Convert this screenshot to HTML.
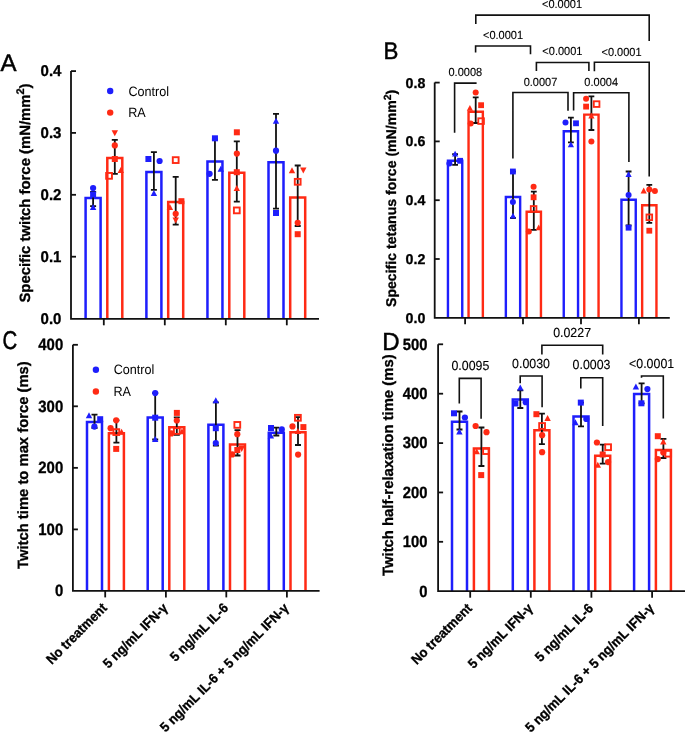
<!DOCTYPE html>
<html><head><meta charset="utf-8"><style>
html,body{margin:0;padding:0;background:#fff;overflow:hidden;}
svg{display:block;will-change:transform;}
text{font-family:"Liberation Sans", sans-serif;text-rendering:geometricPrecision;}
</style></head><body>
<svg width="685" height="733" viewBox="0 0 685 733" font-family='"Liberation Sans", sans-serif'>
<rect width="685" height="733" fill="#fff"/>
<path d="M85.60 318.8V197.9H100.60V318.8" fill="none" stroke="#1e1efc" stroke-width="2.5"/>
<path d="M107.30 318.8V158H122.30V318.8" fill="none" stroke="#ff2a14" stroke-width="2.5"/>
<path d="M146.40 318.8V172H161.40V318.8" fill="none" stroke="#1e1efc" stroke-width="2.5"/>
<path d="M168.20 318.8V201.9H183.20V318.8" fill="none" stroke="#ff2a14" stroke-width="2.5"/>
<path d="M207.45 318.8V161.5H222.45V318.8" fill="none" stroke="#1e1efc" stroke-width="2.5"/>
<path d="M229.30 318.8V172.7H244.30V318.8" fill="none" stroke="#ff2a14" stroke-width="2.5"/>
<path d="M268.50 318.8V162.3H283.50V318.8" fill="none" stroke="#1e1efc" stroke-width="2.5"/>
<path d="M290.20 318.8V197.6H305.20V318.8" fill="none" stroke="#ff2a14" stroke-width="2.5"/>
<path d="M93.1 192V206.2M90.10 192H96.10M90.10 206.2H96.10" fill="none" stroke="#111" stroke-width="1.8"/>
<path d="M114.8 139.9V173.8M111.80 139.9H117.80M111.80 173.8H117.80" fill="none" stroke="#111" stroke-width="1.8"/>
<path d="M153.9 152.1V189.8M150.90 152.1H156.90M150.90 189.8H156.90" fill="none" stroke="#111" stroke-width="1.8"/>
<path d="M175.7 176.9V224.7M172.70 176.9H178.70M172.70 224.7H178.70" fill="none" stroke="#111" stroke-width="1.8"/>
<path d="M214.95 139.5V179.8M211.95 139.5H217.95M211.95 179.8H217.95" fill="none" stroke="#111" stroke-width="1.8"/>
<path d="M236.8 141.4V201.7M233.80 141.4H239.80M233.80 201.7H239.80" fill="none" stroke="#111" stroke-width="1.8"/>
<path d="M276 113.8V208.6M273.00 113.8H279.00M273.00 208.6H279.00" fill="none" stroke="#111" stroke-width="1.8"/>
<path d="M297.7 165.5V226M294.70 165.5H300.70M294.70 226H300.70" fill="none" stroke="#111" stroke-width="1.8"/>
<circle cx="93.1" cy="188" r="3.10" fill="#1e1efc"/>
<rect x="90.10" y="191.50" width="6.00" height="6.00" fill="#1e1efc"/>
<path d="M93.1 204.10L96.30 210.10L89.90 210.10Z" fill="#1e1efc"/>
<path d="M114.8 136.20L118.00 130.20L111.60 130.20Z" fill="#ff2a14"/>
<circle cx="114.8" cy="145.4" r="3.10" fill="#ff2a14"/>
<rect x="111.80" y="156.00" width="6.00" height="6.00" fill="#ff2a14"/>
<path d="M120.8 166.90L124.00 172.90L117.60 172.90Z" fill="#ff2a14"/>
<rect x="106.15" y="172.95" width="5.80" height="5.80" fill="none" stroke="#ff2a14" stroke-width="1.90"/>
<rect x="145.40" y="156.00" width="6.00" height="6.00" fill="#1e1efc"/>
<circle cx="159.6" cy="161" r="3.10" fill="#1e1efc"/>
<path d="M153.9 189.90L157.10 195.90L150.70 195.90Z" fill="#1e1efc"/>
<rect x="172.80" y="157.20" width="5.80" height="5.80" fill="none" stroke="#ff2a14" stroke-width="1.90"/>
<rect x="178.40" y="198.20" width="6.00" height="6.00" fill="#ff2a14"/>
<path d="M169.9 204.10L173.10 210.10L166.70 210.10Z" fill="#ff2a14"/>
<circle cx="175.7" cy="213.8" r="3.10" fill="#ff2a14"/>
<path d="M175.7 223.40L178.90 217.40L172.50 217.40Z" fill="#ff2a14"/>
<rect x="211.95" y="135.30" width="6.00" height="6.00" fill="#1e1efc"/>
<circle cx="209.6" cy="173.8" r="3.10" fill="#1e1efc"/>
<path d="M220.8 165.80L224.00 171.80L217.60 171.80Z" fill="#1e1efc"/>
<rect x="233.85" y="129.30" width="6.00" height="6.00" fill="#ff2a14"/>
<circle cx="236.85" cy="153.6" r="3.10" fill="#ff2a14"/>
<rect x="233.80" y="169.20" width="6.00" height="6.00" fill="#ff2a14"/>
<path d="M236.8 184.90L240.00 190.90L233.60 190.90Z" fill="#ff2a14"/>
<rect x="233.90" y="207.50" width="5.80" height="5.80" fill="none" stroke="#ff2a14" stroke-width="1.90"/>
<path d="M276 117.70L279.20 123.70L272.80 123.70Z" fill="#1e1efc"/>
<circle cx="276" cy="150.7" r="3.10" fill="#1e1efc"/>
<rect x="273.00" y="210.00" width="6.00" height="6.00" fill="#1e1efc"/>
<path d="M292 167.30L295.20 173.30L288.80 173.30Z" fill="#ff2a14"/>
<path d="M303.3 173.50L306.50 167.50L300.10 167.50Z" fill="#ff2a14"/>
<rect x="294.80" y="178.90" width="5.80" height="5.80" fill="none" stroke="#ff2a14" stroke-width="1.90"/>
<circle cx="297.7" cy="222.8" r="3.10" fill="#ff2a14"/>
<rect x="294.70" y="231.20" width="6.00" height="6.00" fill="#ff2a14"/>
<path d="M71 71.1V318.8H319" fill="none" stroke="#111" stroke-width="1.8"/>
<line x1="71" y1="71.1" x2="76" y2="71.1" stroke="#111" stroke-width="1.8"/>
<text transform="translate(61.4 76.37) scale(1 1.04)" font-size="15.0" font-weight="bold" text-anchor="end" fill="#000" stroke="#000" stroke-width="0.3">0.4</text>
<line x1="71" y1="132.9" x2="76" y2="132.9" stroke="#111" stroke-width="1.8"/>
<text transform="translate(61.4 138.17) scale(1 1.04)" font-size="15.0" font-weight="bold" text-anchor="end" fill="#000" stroke="#000" stroke-width="0.3">0.3</text>
<line x1="71" y1="194.8" x2="76" y2="194.8" stroke="#111" stroke-width="1.8"/>
<text transform="translate(61.4 200.07) scale(1 1.04)" font-size="15.0" font-weight="bold" text-anchor="end" fill="#000" stroke="#000" stroke-width="0.3">0.2</text>
<line x1="71" y1="256.7" x2="76" y2="256.7" stroke="#111" stroke-width="1.8"/>
<text transform="translate(61.4 261.97) scale(1 1.04)" font-size="15.0" font-weight="bold" text-anchor="end" fill="#000" stroke="#000" stroke-width="0.3">0.1</text>
<text transform="translate(61.4 324.07) scale(1 1.04)" font-size="15.0" font-weight="bold" text-anchor="end" fill="#000" stroke="#000" stroke-width="0.3">0.0</text>
<line x1="103.8" y1="318.8" x2="103.8" y2="325.3" stroke="#111" stroke-width="1.8"/>
<line x1="164.8" y1="318.8" x2="164.8" y2="325.3" stroke="#111" stroke-width="1.8"/>
<line x1="225.8" y1="318.8" x2="225.8" y2="325.3" stroke="#111" stroke-width="1.8"/>
<line x1="286.8" y1="318.8" x2="286.8" y2="325.3" stroke="#111" stroke-width="1.8"/>
<path d="M447.95 317.8V160.8H462.25V317.8" fill="none" stroke="#1e1efc" stroke-width="2.4"/>
<path d="M468.55 317.8V111.7H482.85V317.8" fill="none" stroke="#ff2a14" stroke-width="2.4"/>
<path d="M505.85 317.8V197H520.15V317.8" fill="none" stroke="#1e1efc" stroke-width="2.4"/>
<path d="M526.65 317.8V211.8H540.95V317.8" fill="none" stroke="#ff2a14" stroke-width="2.4"/>
<path d="M563.75 317.8V131.2H578.05V317.8" fill="none" stroke="#1e1efc" stroke-width="2.4"/>
<path d="M584.25 317.8V114.6H598.55V317.8" fill="none" stroke="#ff2a14" stroke-width="2.4"/>
<path d="M621.45 317.8V199.8H635.75V317.8" fill="none" stroke="#1e1efc" stroke-width="2.4"/>
<path d="M642.15 317.8V205.2H656.45V317.8" fill="none" stroke="#ff2a14" stroke-width="2.4"/>
<path d="M455.1 154.1V164.8M452.19 154.1H458.01M452.19 164.8H458.01" fill="none" stroke="#111" stroke-width="1.8"/>
<path d="M475.7 97.3V123M472.79 97.3H478.61M472.79 123H478.61" fill="none" stroke="#111" stroke-width="1.8"/>
<path d="M513.0 171.5V218M510.09 171.5H515.91M510.09 218H515.91" fill="none" stroke="#111" stroke-width="1.8"/>
<path d="M533.8 191.7V229.8M530.89 191.7H536.71M530.89 229.8H536.71" fill="none" stroke="#111" stroke-width="1.8"/>
<path d="M570.9 117.6V142.3M567.99 117.6H573.81M567.99 142.3H573.81" fill="none" stroke="#111" stroke-width="1.8"/>
<path d="M591.4 96.4V130M588.49 96.4H594.31M588.49 130H594.31" fill="none" stroke="#111" stroke-width="1.8"/>
<path d="M628.6 171.5V225.5M625.69 171.5H631.51M625.69 225.5H631.51" fill="none" stroke="#111" stroke-width="1.8"/>
<path d="M649.3 184.9V222.8M646.39 184.9H652.21M646.39 222.8H652.21" fill="none" stroke="#111" stroke-width="1.8"/>
<circle cx="449.4" cy="163.5" r="3.01" fill="#1e1efc"/>
<rect x="457.19" y="157.89" width="5.82" height="5.82" fill="#1e1efc"/>
<path d="M455.1 150.79L458.20 156.61L452.00 156.61Z" fill="#1e1efc"/>
<circle cx="475.7" cy="92.4" r="3.01" fill="#ff2a14"/>
<rect x="478.19" y="102.29" width="5.82" height="5.82" fill="#ff2a14"/>
<path d="M469.9 104.99L473.00 110.81L466.80 110.81Z" fill="#ff2a14"/>
<circle cx="470.7" cy="123.6" r="3.01" fill="#ff2a14"/>
<rect x="478.29" y="118.29" width="5.63" height="5.63" fill="none" stroke="#ff2a14" stroke-width="1.84"/>
<rect x="509.99" y="168.59" width="5.82" height="5.82" fill="#1e1efc"/>
<circle cx="512.9" cy="202" r="3.01" fill="#1e1efc"/>
<path d="M513 212.79L516.10 218.61L509.90 218.61Z" fill="#1e1efc"/>
<circle cx="533.6" cy="186.7" r="3.01" fill="#ff2a14"/>
<rect x="530.69" y="194.39" width="5.82" height="5.82" fill="#ff2a14"/>
<rect x="530.79" y="206.09" width="5.63" height="5.63" fill="none" stroke="#ff2a14" stroke-width="1.84"/>
<path d="M538.7 224.39L541.80 230.21L535.60 230.21Z" fill="#ff2a14"/>
<circle cx="528.8" cy="231.5" r="3.01" fill="#ff2a14"/>
<circle cx="565.5" cy="122.5" r="3.01" fill="#1e1efc"/>
<rect x="573.09" y="120.39" width="5.82" height="5.82" fill="#1e1efc"/>
<path d="M570.9 141.49L574.00 147.31L567.80 147.31Z" fill="#1e1efc"/>
<circle cx="586.1" cy="98.8" r="3.01" fill="#ff2a14"/>
<rect x="583.19" y="103.69" width="5.82" height="5.82" fill="#ff2a14"/>
<rect x="593.79" y="101.29" width="5.63" height="5.63" fill="none" stroke="#ff2a14" stroke-width="1.84"/>
<path d="M591.4 112.59L594.50 118.41L588.30 118.41Z" fill="#ff2a14"/>
<circle cx="591.4" cy="141.4" r="3.01" fill="#ff2a14"/>
<path d="M628.6 171.19L631.70 177.01L625.50 177.01Z" fill="#1e1efc"/>
<circle cx="628.6" cy="194.9" r="3.01" fill="#1e1efc"/>
<rect x="625.69" y="224.79" width="5.82" height="5.82" fill="#1e1efc"/>
<path d="M643.7 187.59L646.80 193.41L640.60 193.41Z" fill="#ff2a14"/>
<circle cx="649.3" cy="189.5" r="3.01" fill="#ff2a14"/>
<circle cx="654.9" cy="191.1" r="3.01" fill="#ff2a14"/>
<rect x="646.49" y="214.49" width="5.63" height="5.63" fill="none" stroke="#ff2a14" stroke-width="1.84"/>
<rect x="646.39" y="227.79" width="5.82" height="5.82" fill="#ff2a14"/>
<path d="M434.7 82.6V317.8H669.8" fill="none" stroke="#111" stroke-width="1.8"/>
<line x1="434.7" y1="82.6" x2="439.7" y2="82.6" stroke="#111" stroke-width="1.8"/>
<text transform="translate(425.3 87.68) scale(1 1.0)" font-size="14.2" font-weight="bold" text-anchor="end" fill="#000" stroke="#000" stroke-width="0.3">0.8</text>
<line x1="434.7" y1="141.4" x2="439.7" y2="141.4" stroke="#111" stroke-width="1.8"/>
<text transform="translate(425.3 146.48) scale(1 1.0)" font-size="14.2" font-weight="bold" text-anchor="end" fill="#000" stroke="#000" stroke-width="0.3">0.6</text>
<line x1="434.7" y1="200.2" x2="439.7" y2="200.2" stroke="#111" stroke-width="1.8"/>
<text transform="translate(425.3 205.28) scale(1 1.0)" font-size="14.2" font-weight="bold" text-anchor="end" fill="#000" stroke="#000" stroke-width="0.3">0.4</text>
<line x1="434.7" y1="259" x2="439.7" y2="259" stroke="#111" stroke-width="1.8"/>
<text transform="translate(425.3 264.08) scale(1 1.0)" font-size="14.2" font-weight="bold" text-anchor="end" fill="#000" stroke="#000" stroke-width="0.3">0.2</text>
<text transform="translate(425.3 322.88) scale(1 1.0)" font-size="14.2" font-weight="bold" text-anchor="end" fill="#000" stroke="#000" stroke-width="0.3">0.0</text>
<line x1="465.1" y1="317.8" x2="465.1" y2="324.3" stroke="#111" stroke-width="1.8"/>
<line x1="523" y1="317.8" x2="523" y2="324.3" stroke="#111" stroke-width="1.8"/>
<line x1="581" y1="317.8" x2="581" y2="324.3" stroke="#111" stroke-width="1.8"/>
<line x1="638.9" y1="317.8" x2="638.9" y2="324.3" stroke="#111" stroke-width="1.8"/>
<path d="M87.00 590.9V421.9H102.00V590.9" fill="none" stroke="#1e1efc" stroke-width="2.5"/>
<path d="M108.90 590.9V433.3H123.90V590.9" fill="none" stroke="#ff2a14" stroke-width="2.5"/>
<path d="M147.70 590.9V417.6H162.70V590.9" fill="none" stroke="#1e1efc" stroke-width="2.5"/>
<path d="M169.30 590.9V427.2H184.30V590.9" fill="none" stroke="#ff2a14" stroke-width="2.5"/>
<path d="M208.40 590.9V424.8H223.40V590.9" fill="none" stroke="#1e1efc" stroke-width="2.5"/>
<path d="M230.00 590.9V444.5H245.00V590.9" fill="none" stroke="#ff2a14" stroke-width="2.5"/>
<path d="M268.80 590.9V432.8H283.80V590.9" fill="none" stroke="#1e1efc" stroke-width="2.5"/>
<path d="M290.50 590.9V432.3H305.50V590.9" fill="none" stroke="#ff2a14" stroke-width="2.5"/>
<path d="M94.5 414.6V428M91.50 414.6H97.50M91.50 428H97.50" fill="none" stroke="#111" stroke-width="1.8"/>
<path d="M116.4 420.3V442.7M113.40 420.3H119.40M113.40 442.7H119.40" fill="none" stroke="#111" stroke-width="1.8"/>
<path d="M155.2 393.1V439.5M152.20 393.1H158.20M152.20 439.5H158.20" fill="none" stroke="#111" stroke-width="1.8"/>
<path d="M176.8 417.4V434.9M173.80 417.4H179.80M173.80 434.9H179.80" fill="none" stroke="#111" stroke-width="1.8"/>
<path d="M215.9 402.3V445.5M212.90 402.3H218.90M212.90 445.5H218.90" fill="none" stroke="#111" stroke-width="1.8"/>
<path d="M237.5 430.2V455.5M234.50 430.2H240.50M234.50 455.5H240.50" fill="none" stroke="#111" stroke-width="1.8"/>
<path d="M276.3 427.6V435.5M273.30 427.6H279.30M273.30 435.5H279.30" fill="none" stroke="#111" stroke-width="1.8"/>
<path d="M298 417.2V445M295.00 417.2H301.00M295.00 445H301.00" fill="none" stroke="#111" stroke-width="1.8"/>
<path d="M89 412.20L92.20 418.20L85.80 418.20Z" fill="#1e1efc"/>
<rect x="97.20" y="416.20" width="6.00" height="6.00" fill="#1e1efc"/>
<circle cx="94.4" cy="426.6" r="3.10" fill="#1e1efc"/>
<circle cx="116.2" cy="420.3" r="3.10" fill="#ff2a14"/>
<circle cx="110.6" cy="428.2" r="3.10" fill="#ff2a14"/>
<rect x="113.40" y="429.20" width="5.80" height="5.80" fill="none" stroke="#ff2a14" stroke-width="1.90"/>
<path d="M121.6 428.70L124.80 434.70L118.40 434.70Z" fill="#ff2a14"/>
<rect x="113.20" y="445.90" width="6.00" height="6.00" fill="#ff2a14"/>
<circle cx="155.2" cy="393.1" r="3.10" fill="#1e1efc"/>
<rect x="152.20" y="414.70" width="6.00" height="6.00" fill="#1e1efc"/>
<path d="M155.2 435.90L158.40 441.90L152.00 441.90Z" fill="#1e1efc"/>
<rect x="173.85" y="409.90" width="6.00" height="6.00" fill="#ff2a14"/>
<circle cx="176.8" cy="420.5" r="3.10" fill="#ff2a14"/>
<circle cx="171.4" cy="433.4" r="3.10" fill="#ff2a14"/>
<rect x="173.90" y="428.10" width="5.80" height="5.80" fill="none" stroke="#ff2a14" stroke-width="1.90"/>
<path d="M182 428.20L185.20 434.20L178.80 434.20Z" fill="#ff2a14"/>
<path d="M215.8 397.30L219.00 403.30L212.60 403.30Z" fill="#1e1efc"/>
<rect x="212.80" y="425.20" width="6.00" height="6.00" fill="#1e1efc"/>
<circle cx="215.8" cy="443" r="3.10" fill="#1e1efc"/>
<rect x="234.40" y="422.00" width="5.80" height="5.80" fill="none" stroke="#ff2a14" stroke-width="1.90"/>
<circle cx="237.3" cy="434.2" r="3.10" fill="#ff2a14"/>
<rect x="234.30" y="447.00" width="6.00" height="6.00" fill="#ff2a14"/>
<path d="M241.7 452.10L244.90 446.10L238.50 446.10Z" fill="#ff2a14"/>
<circle cx="232.2" cy="454.4" r="3.10" fill="#ff2a14"/>
<rect x="268.00" y="425.00" width="6.00" height="6.00" fill="#1e1efc"/>
<circle cx="281.8" cy="429.4" r="3.10" fill="#1e1efc"/>
<path d="M270.9 432.50L274.10 438.50L267.70 438.50Z" fill="#1e1efc"/>
<rect x="295.00" y="414.90" width="5.80" height="5.80" fill="none" stroke="#ff2a14" stroke-width="1.90"/>
<circle cx="292.5" cy="426.4" r="3.10" fill="#ff2a14"/>
<rect x="300.40" y="424.10" width="6.00" height="6.00" fill="#ff2a14"/>
<path d="M297.9 427.90L301.10 433.90L294.70 433.90Z" fill="#ff2a14"/>
<circle cx="298.1" cy="454.6" r="3.10" fill="#ff2a14"/>
<path d="M72.9 344.8V590.9H319.6" fill="none" stroke="#111" stroke-width="1.8"/>
<line x1="72.9" y1="344.8" x2="77.9" y2="344.8" stroke="#111" stroke-width="1.8"/>
<text transform="translate(63.2 350.13) scale(1 1.1)" font-size="14.9" font-weight="bold" text-anchor="end" fill="#000" stroke="#000" stroke-width="0.3">400</text>
<line x1="72.9" y1="406.3" x2="77.9" y2="406.3" stroke="#111" stroke-width="1.8"/>
<text transform="translate(63.2 411.63) scale(1 1.1)" font-size="14.9" font-weight="bold" text-anchor="end" fill="#000" stroke="#000" stroke-width="0.3">300</text>
<line x1="72.9" y1="467.85" x2="77.9" y2="467.85" stroke="#111" stroke-width="1.8"/>
<text transform="translate(63.2 473.18) scale(1 1.1)" font-size="14.9" font-weight="bold" text-anchor="end" fill="#000" stroke="#000" stroke-width="0.3">200</text>
<line x1="72.9" y1="529.4" x2="77.9" y2="529.4" stroke="#111" stroke-width="1.8"/>
<text transform="translate(63.2 534.73) scale(1 1.1)" font-size="14.9" font-weight="bold" text-anchor="end" fill="#000" stroke="#000" stroke-width="0.3">100</text>
<text transform="translate(63.2 596.23) scale(1 1.1)" font-size="14.9" font-weight="bold" text-anchor="end" fill="#000" stroke="#000" stroke-width="0.3">0</text>
<line x1="105.2" y1="590.9" x2="105.2" y2="597.4" stroke="#111" stroke-width="1.8"/>
<line x1="165.9" y1="590.9" x2="165.9" y2="597.4" stroke="#111" stroke-width="1.8"/>
<line x1="226.3" y1="590.9" x2="226.3" y2="597.4" stroke="#111" stroke-width="1.8"/>
<line x1="286.9" y1="590.9" x2="286.9" y2="597.4" stroke="#111" stroke-width="1.8"/>
<path d="M452.00 591.2V421.7H467.00V591.2" fill="none" stroke="#1e1efc" stroke-width="2.5"/>
<path d="M473.90 591.2V448.5H488.90V591.2" fill="none" stroke="#ff2a14" stroke-width="2.5"/>
<path d="M512.80 591.2V399.6H527.80V591.2" fill="none" stroke="#1e1efc" stroke-width="2.5"/>
<path d="M534.40 591.2V430.3H549.40V591.2" fill="none" stroke="#ff2a14" stroke-width="2.5"/>
<path d="M573.50 591.2V416.5H588.50V591.2" fill="none" stroke="#1e1efc" stroke-width="2.5"/>
<path d="M595.20 591.2V455.8H610.20V591.2" fill="none" stroke="#ff2a14" stroke-width="2.5"/>
<path d="M634.10 591.2V394.1H649.10V591.2" fill="none" stroke="#1e1efc" stroke-width="2.5"/>
<path d="M655.90 591.2V450.1H670.90V591.2" fill="none" stroke="#ff2a14" stroke-width="2.5"/>
<path d="M459.5 411.5V429.5M456.50 411.5H462.50M456.50 429.5H462.50" fill="none" stroke="#111" stroke-width="1.8"/>
<path d="M481.4 427.5V466M478.40 427.5H484.40M478.40 466H484.40" fill="none" stroke="#111" stroke-width="1.8"/>
<path d="M520.3 390.3V408.0M517.30 390.3H523.30M517.30 408.0H523.30" fill="none" stroke="#111" stroke-width="1.8"/>
<path d="M541.9 413.7V444.2M538.90 413.7H544.90M538.90 444.2H544.90" fill="none" stroke="#111" stroke-width="1.8"/>
<path d="M581.0 402.6V426.4M578.00 402.6H584.00M578.00 426.4H584.00" fill="none" stroke="#111" stroke-width="1.8"/>
<path d="M602.7 444.7V463.6M599.70 444.7H605.70M599.70 463.6H605.70" fill="none" stroke="#111" stroke-width="1.8"/>
<path d="M641.6 383.3V403.3M638.60 383.3H644.60M638.60 403.3H644.60" fill="none" stroke="#111" stroke-width="1.8"/>
<path d="M663.4 438.9V458M660.40 438.9H666.40M660.40 458H666.40" fill="none" stroke="#111" stroke-width="1.8"/>
<rect x="451.00" y="410.30" width="6.00" height="6.00" fill="#1e1efc"/>
<circle cx="464.9" cy="417.5" r="3.10" fill="#1e1efc"/>
<path d="M459.4 428.60L462.60 434.60L456.20 434.60Z" fill="#1e1efc"/>
<circle cx="475.6" cy="426" r="3.10" fill="#ff2a14"/>
<circle cx="486.5" cy="432.2" r="3.10" fill="#ff2a14"/>
<path d="M476.7 448.20L479.90 454.20L473.50 454.20Z" fill="#ff2a14"/>
<rect x="483.10" y="448.20" width="5.80" height="5.80" fill="none" stroke="#ff2a14" stroke-width="1.90"/>
<rect x="478.20" y="472.10" width="6.00" height="6.00" fill="#ff2a14"/>
<path d="M520.3 384.60L523.50 390.60L517.10 390.60Z" fill="#1e1efc"/>
<rect x="512.40" y="400.50" width="6.00" height="6.00" fill="#1e1efc"/>
<circle cx="525.7" cy="402.2" r="3.10" fill="#1e1efc"/>
<rect x="533.40" y="411.20" width="6.00" height="6.00" fill="#ff2a14"/>
<path d="M547.6 414.90L550.80 420.90L544.40 420.90Z" fill="#ff2a14"/>
<rect x="539.20" y="423.10" width="5.80" height="5.80" fill="none" stroke="#ff2a14" stroke-width="1.90"/>
<circle cx="542.1" cy="435.2" r="3.10" fill="#ff2a14"/>
<circle cx="542.1" cy="452.2" r="3.10" fill="#ff2a14"/>
<rect x="577.80" y="399.60" width="6.00" height="6.00" fill="#1e1efc"/>
<path d="M575.4 419.20L578.60 425.20L572.20 425.20Z" fill="#1e1efc"/>
<circle cx="586.3" cy="419" r="3.10" fill="#1e1efc"/>
<circle cx="596.9" cy="442.5" r="3.10" fill="#ff2a14"/>
<rect x="605.20" y="444.30" width="5.80" height="5.80" fill="none" stroke="#ff2a14" stroke-width="1.90"/>
<rect x="599.70" y="451.50" width="6.00" height="6.00" fill="#ff2a14"/>
<path d="M597.8 461.80L601.00 467.80L594.60 467.80Z" fill="#ff2a14"/>
<circle cx="608.1" cy="462.1" r="3.10" fill="#ff2a14"/>
<path d="M635.9 383.50L639.10 389.50L632.70 389.50Z" fill="#1e1efc"/>
<circle cx="647.4" cy="389.1" r="3.10" fill="#1e1efc"/>
<rect x="638.40" y="400.30" width="6.00" height="6.00" fill="#1e1efc"/>
<rect x="654.80" y="433.20" width="6.00" height="6.00" fill="#ff2a14"/>
<path d="M663.3 438.60L666.50 444.60L660.10 444.60Z" fill="#ff2a14"/>
<circle cx="663.3" cy="452.5" r="3.10" fill="#ff2a14"/>
<rect x="665.30" y="450.80" width="5.80" height="5.80" fill="none" stroke="#ff2a14" stroke-width="1.90"/>
<circle cx="657.8" cy="459.1" r="3.10" fill="#ff2a14"/>
<path d="M438.1 344.3V591.2H685" fill="none" stroke="#111" stroke-width="1.8"/>
<line x1="438.1" y1="344.3" x2="443.1" y2="344.3" stroke="#111" stroke-width="1.8"/>
<text transform="translate(427.5 349.6) scale(1 1.1)" font-size="14.8" font-weight="bold" text-anchor="end" fill="#000" stroke="#000" stroke-width="0.3">500</text>
<line x1="438.1" y1="393.7" x2="443.1" y2="393.7" stroke="#111" stroke-width="1.8"/>
<text transform="translate(427.5 399.0) scale(1 1.1)" font-size="14.8" font-weight="bold" text-anchor="end" fill="#000" stroke="#000" stroke-width="0.3">400</text>
<line x1="438.1" y1="443.1" x2="443.1" y2="443.1" stroke="#111" stroke-width="1.8"/>
<text transform="translate(427.5 448.4) scale(1 1.1)" font-size="14.8" font-weight="bold" text-anchor="end" fill="#000" stroke="#000" stroke-width="0.3">300</text>
<line x1="438.1" y1="492.45" x2="443.1" y2="492.45" stroke="#111" stroke-width="1.8"/>
<text transform="translate(427.5 497.75) scale(1 1.1)" font-size="14.8" font-weight="bold" text-anchor="end" fill="#000" stroke="#000" stroke-width="0.3">200</text>
<line x1="438.1" y1="541.8" x2="443.1" y2="541.8" stroke="#111" stroke-width="1.8"/>
<text transform="translate(427.5 547.1) scale(1 1.1)" font-size="14.8" font-weight="bold" text-anchor="end" fill="#000" stroke="#000" stroke-width="0.3">100</text>
<text transform="translate(427.5 596.5) scale(1 1.1)" font-size="14.8" font-weight="bold" text-anchor="end" fill="#000" stroke="#000" stroke-width="0.3">0</text>
<line x1="470.2" y1="591.2" x2="470.2" y2="597.7" stroke="#111" stroke-width="1.8"/>
<line x1="530.8" y1="591.2" x2="530.8" y2="597.7" stroke="#111" stroke-width="1.8"/>
<line x1="591.4" y1="591.2" x2="591.4" y2="597.7" stroke="#111" stroke-width="1.8"/>
<line x1="652.1" y1="591.2" x2="652.1" y2="597.7" stroke="#111" stroke-width="1.8"/>
<path d="M454.6 132.8V83.1H476.6V83.1" fill="none" stroke="#111" stroke-width="1.6"/>
<path d="M475.6 52.5V46.0H530.5V54.3" fill="none" stroke="#111" stroke-width="1.6"/>
<path d="M536.4 71.0V62.5H588.9V71.0" fill="none" stroke="#111" stroke-width="1.6"/>
<path d="M512.9 158.4V92.5H568.0V110.7" fill="none" stroke="#111" stroke-width="1.6"/>
<path d="M573.6 110.6V92.7H628.9V162.0" fill="none" stroke="#111" stroke-width="1.6"/>
<path d="M594.4 71.2V62.2H649.2V176.4" fill="none" stroke="#111" stroke-width="1.6"/>
<path d="M475.8 24.1V15.1H649.2V40.9" fill="none" stroke="#111" stroke-width="1.6"/>
<text transform="translate(465.3 76.3) scale(1 1.07)" font-size="11.0" text-anchor="middle" fill="#000" stroke="#000" stroke-width="0.12">0.0008</text>
<text transform="translate(503 38.5) scale(1 1.07)" font-size="11.0" text-anchor="middle" fill="#000" stroke="#000" stroke-width="0.12">&lt;0.0001</text>
<text transform="translate(562.4 55.2) scale(1 1.07)" font-size="11.0" text-anchor="middle" fill="#000" stroke="#000" stroke-width="0.12">&lt;0.0001</text>
<text transform="translate(540.5 86) scale(1 1.07)" font-size="11.0" text-anchor="middle" fill="#000" stroke="#000" stroke-width="0.12">0.0007</text>
<text transform="translate(601.2 86) scale(1 1.07)" font-size="11.0" text-anchor="middle" fill="#000" stroke="#000" stroke-width="0.12">0.0004</text>
<text transform="translate(621.5 55.5) scale(1 1.07)" font-size="11.0" text-anchor="middle" fill="#000" stroke="#000" stroke-width="0.12">&lt;0.0001</text>
<text transform="translate(562 8.2) scale(1 1.07)" font-size="11.0" text-anchor="middle" fill="#000" stroke="#000" stroke-width="0.12">&lt;0.0001</text>
<path d="M459.3 403.5V378.4H481.1V418.8" fill="none" stroke="#111" stroke-width="1.6"/>
<path d="M520.2 383.3V376.0H542.1V407.3" fill="none" stroke="#111" stroke-width="1.6"/>
<path d="M580.8 388.6V377.7H602.7V426.1" fill="none" stroke="#111" stroke-width="1.6"/>
<path d="M641.5 377.8V376.0H663.3V418.6" fill="none" stroke="#111" stroke-width="1.6"/>
<path d="M541.9 354.4V345.3H602.7V354.4" fill="none" stroke="#111" stroke-width="1.6"/>
<text transform="translate(470.4 370.2) scale(1 1.06)" font-size="12.4" text-anchor="middle" fill="#000" stroke="#000" stroke-width="0.12">0.0095</text>
<text transform="translate(531 367.7) scale(1 1.06)" font-size="12.4" text-anchor="middle" fill="#000" stroke="#000" stroke-width="0.12">0.0030</text>
<text transform="translate(591.5 368.9) scale(1 1.06)" font-size="12.4" text-anchor="middle" fill="#000" stroke="#000" stroke-width="0.12">0.0003</text>
<text transform="translate(651.6 367.7) scale(1 1.06)" font-size="12.4" text-anchor="middle" fill="#000" stroke="#000" stroke-width="0.12">&lt;0.0001</text>
<text transform="translate(572.1 337.0) scale(1 1.06)" font-size="12.4" text-anchor="middle" fill="#000" stroke="#000" stroke-width="0.12">0.0227</text>
<text x="0.5" y="71.3" font-size="24" fill="#000" stroke="#000" stroke-width="0.5">A</text>
<text transform="translate(383.5 59.2) scale(0.93 1.0)" font-size="24" fill="#000" stroke="#000" stroke-width="0.5">B</text>
<text transform="translate(2.4 349.2) scale(0.85 1.07)" font-size="24" fill="#000" stroke="#000" stroke-width="0.5">C</text>
<text transform="translate(382.2 350.0) scale(1 1.03)" font-size="24" fill="#000" stroke="#000" stroke-width="0.5">D</text>
<circle cx="110.2" cy="91" r="3.2" fill="#1e1efc"/>
<circle cx="110.2" cy="112.6" r="3.2" fill="#ff2a14"/>
<text transform="translate(128.4 95.7) scale(1 1.07)" font-size="12.6" text-anchor="start" fill="#000">Control</text>
<text transform="translate(128.20000000000002 117.3) scale(1 1.07)" font-size="12.6" text-anchor="start" fill="#000">RA</text>
<circle cx="95.9" cy="369.7" r="3.2" fill="#1e1efc"/>
<circle cx="95.9" cy="391.5" r="3.2" fill="#ff2a14"/>
<text transform="translate(113.7 374.2) scale(1 1.07)" font-size="12.6" text-anchor="start" fill="#000">Control</text>
<text transform="translate(113.5 395.9) scale(1 1.07)" font-size="12.6" text-anchor="start" fill="#000">RA</text>
<text transform="translate(30.0 302.6) rotate(-90) scale(1 1.0)" font-size="14.86" font-weight="bold" text-anchor="start" fill="#000" stroke="#000" stroke-width="0.3">Specific twitch force (mN/mm<tspan dy="-5.6" font-size="11.0">2</tspan><tspan dy="5.6">)</tspan></text>
<text transform="translate(396.0 307.0) rotate(-90) scale(1 1.0)" font-size="14.1" font-weight="bold" text-anchor="start" fill="#000" stroke="#000" stroke-width="0.3">Specific tetanus force (mN/mm<tspan dy="-5.4" font-size="10.4">2</tspan><tspan dy="5.4">)</tspan></text>
<text transform="translate(28.0 569.0) rotate(-90) scale(1 1.0)" font-size="14.8" font-weight="bold" text-anchor="start" fill="#000" stroke="#000" stroke-width="0.3">Twitch time to max force (ms)</text>
<text transform="translate(393.2 576.0) rotate(-90) scale(1 1.0)" font-size="14.85" font-weight="bold" text-anchor="start" fill="#000" stroke="#000" stroke-width="0.3">Twitch half-relaxation time (ms)</text>
<text transform="translate(107.9 608.8) rotate(-45) scale(1 1.06)" font-size="12.9" font-weight="bold" text-anchor="end" fill="#000" stroke="#000" stroke-width="0.3">No treatment</text>
<text transform="translate(168.6 608.8) rotate(-45) scale(1 1.06)" font-size="12.9" font-weight="bold" text-anchor="end" fill="#000" stroke="#000" stroke-width="0.3">5 ng/mL IFN-γ</text>
<text transform="translate(229.0 608.8) rotate(-45) scale(1 1.06)" font-size="12.9" font-weight="bold" text-anchor="end" fill="#000" stroke="#000" stroke-width="0.3">5 ng/mL IL-6</text>
<text transform="translate(289.6 608.8) rotate(-45) scale(1 1.06)" font-size="12.9" font-weight="bold" text-anchor="end" fill="#000" stroke="#000" stroke-width="0.3">5 ng/mL IL-6 + 5 ng/mL IFN-γ</text>
<text transform="translate(472.9 609.1) rotate(-45) scale(1 1.06)" font-size="12.9" font-weight="bold" text-anchor="end" fill="#000" stroke="#000" stroke-width="0.3">No treatment</text>
<text transform="translate(533.5 609.1) rotate(-45) scale(1 1.06)" font-size="12.9" font-weight="bold" text-anchor="end" fill="#000" stroke="#000" stroke-width="0.3">5 ng/mL IFN-γ</text>
<text transform="translate(594.1 609.1) rotate(-45) scale(1 1.06)" font-size="12.9" font-weight="bold" text-anchor="end" fill="#000" stroke="#000" stroke-width="0.3">5 ng/mL IL-6</text>
<text transform="translate(654.8 609.1) rotate(-45) scale(1 1.06)" font-size="12.9" font-weight="bold" text-anchor="end" fill="#000" stroke="#000" stroke-width="0.3">5 ng/mL IL-6 + 5 ng/mL IFN-γ</text>
</svg>
</body></html>
